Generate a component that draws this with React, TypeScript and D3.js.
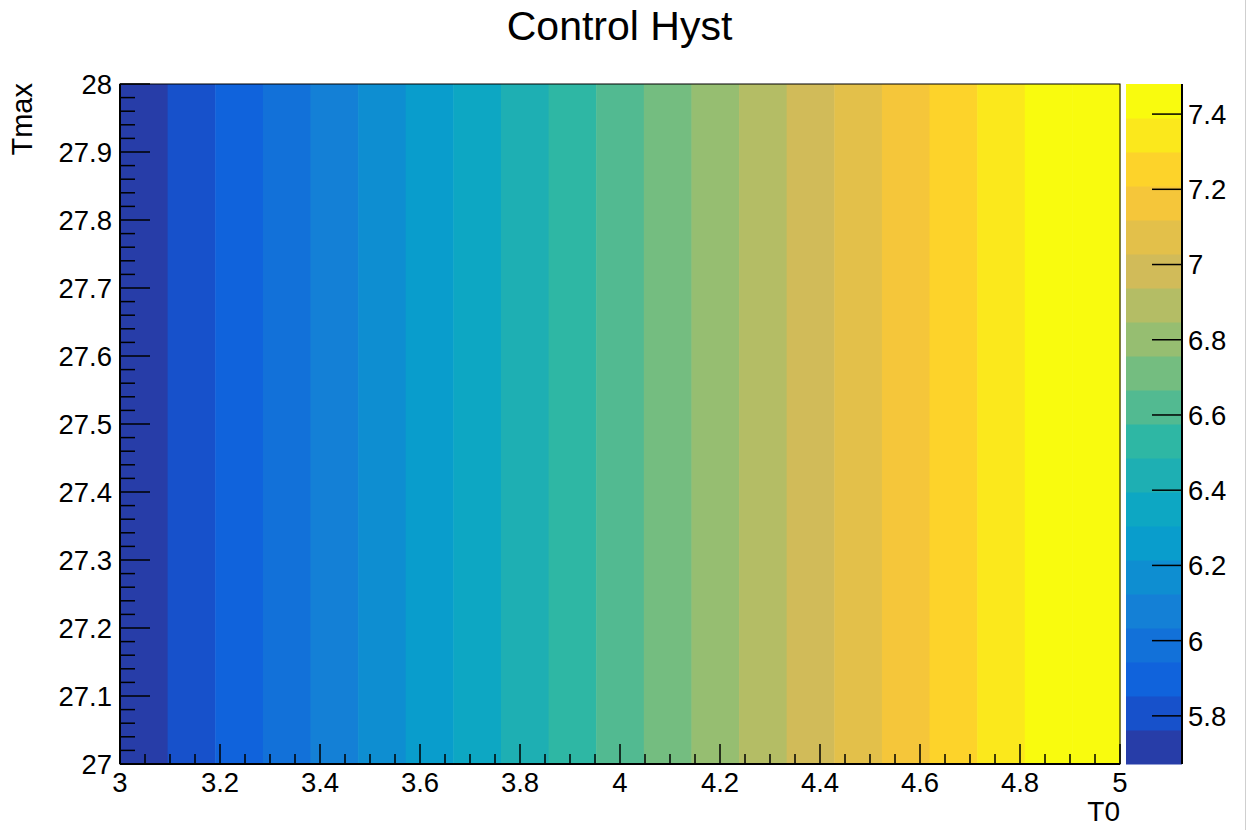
import React from "react";
import * as d3 from "d3";

// Histogram axes ranges
const T0_RANGE: [number, number] = [3, 5];
const TMAX_RANGE: [number, number] = [27, 28];

// Bin contents along T0 (one row spanning the full Tmax range)
const CELL_VALUES = [
  5.672, 5.7624, 5.8528, 5.9432, 6.0336, 6.124, 6.2144, 6.3048, 6.3952, 6.4856,
  6.576, 6.6664, 6.7568, 6.8472, 6.9376, 7.028, 7.1184, 7.2088, 7.2992, 7.3896,
  7.48,
];

const X_TICKS = [3, 3.2, 3.4, 3.6, 3.8, 4, 4.2, 4.4, 4.6, 4.8, 5];
const Y_TICKS = [27, 27.1, 27.2, 27.3, 27.4, 27.5, 27.6, 27.7, 27.8, 27.9, 28];
const Z_TICKS = [5.8, 6, 6.2, 6.4, 6.6, 6.8, 7, 7.2, 7.4];

const N_CONTOURS = 20;

// kBird gradient stops
const BIRD_STOPS = [0.0, 0.125, 0.25, 0.375, 0.5, 0.625, 0.75, 0.875, 1.0];
const BIRD_R = [0.2082, 0.0592, 0.078, 0.0232, 0.1802, 0.5301, 0.8186, 0.9956, 0.9764];
const BIRD_G = [0.1664, 0.3599, 0.5041, 0.6419, 0.7178, 0.7492, 0.7328, 0.7862, 0.9832];
const BIRD_B = [0.5293, 0.8684, 0.8385, 0.7914, 0.6425, 0.4662, 0.3499, 0.1968, 0.0539];

const W = 1253;
const H = 830;
const FRAME = { x0: 120, y0: 84, x1: 1120, y1: 764 };
const PAL = { x0: 1126, x1: 1182 };
const FONT = "'Liberation Sans', Arial, Helvetica, sans-serif";
const TICK_FONT = 27.5;

function birdColor(frac: number): string {
  const ch = (arr: number[]) =>
    d3.scaleLinear<number>().domain(BIRD_STOPS).range(arr).clamp(true)(frac);
  return d3.rgb(ch(BIRD_R) * 255, ch(BIRD_G) * 255, ch(BIRD_B) * 255).formatHex();
}

// Colour for a contour level, picked from a 255-entry gradient table
function levelColor(level: number): string {
  const nColors = 255;
  const idx = Math.floor(((level + 0.99) * nColors) / N_CONTOURS);
  return birdColor(Math.min(idx, nColors - 1) / (nColors - 1));
}

const fmt = (v: number) => d3.format("~g")(+v.toFixed(4));

export default function App() {
  const x = d3.scaleLinear().domain(T0_RANGE).range([FRAME.x0, FRAME.x1]);
  const y = d3.scaleLinear().domain(TMAX_RANGE).range([FRAME.y1, FRAME.y0]);
  const zMin = d3.min(CELL_VALUES)!;
  const zMax = d3.max(CELL_VALUES)!;
  const z = d3.scaleLinear().domain([zMin, zMax]).range([FRAME.y1, FRAME.y0]);

  const nx = CELL_VALUES.length;
  const binW = (T0_RANGE[1] - T0_RANGE[0]) / nx;
  const levelOf = (v: number) =>
    Math.min(
      N_CONTOURS - 1,
      Math.floor(((v - zMin) / (zMax - zMin)) * N_CONTOURS + 1e-6)
    );

  // minor ticks
  const xMinor = d3
    .range(0, (T0_RANGE[1] - T0_RANGE[0]) / 0.05 + 1)
    .map((i) => T0_RANGE[0] + i * 0.05);
  const yMinor = d3
    .range(0, (TMAX_RANGE[1] - TMAX_RANGE[0]) / 0.02 + 1)
    .map((i) => TMAX_RANGE[0] + i * 0.02);

  const zStep = (zMax - zMin) / N_CONTOURS;
  const levels = d3.range(N_CONTOURS);

  return (
    <svg
      width={W}
      height={H}
      style={{ position: "absolute", left: 0, top: 0, background: "#fff" }}
      fontFamily={FONT}
    >
      <rect x={0} y={0} width={W} height={H} fill="#fff" />

      {/* cells */}
      {CELL_VALUES.map((v, i) => {
        const xa = x(T0_RANGE[0] + i * binW);
        const xb = x(T0_RANGE[0] + (i + 1) * binW);
        return (
          <rect
            key={i}
            x={xa}
            y={y(TMAX_RANGE[1])}
            width={xb - xa + 0.5}
            height={y(TMAX_RANGE[0]) - y(TMAX_RANGE[1])}
            fill={levelColor(levelOf(v))}
          />
        );
      })}

      {/* frame */}
      <rect
        x={FRAME.x0}
        y={FRAME.y0}
        width={FRAME.x1 - FRAME.x0}
        height={FRAME.y1 - FRAME.y0}
        fill="none"
        stroke="#000"
        strokeWidth={1}
      />

      {/* X axis */}
      <line x1={FRAME.x0} x2={FRAME.x1} y1={FRAME.y1} y2={FRAME.y1} stroke="#000" strokeWidth={2} />
      {xMinor.map((t, i) => (
        <line
          key={"xm" + i}
          x1={x(t)}
          x2={x(t)}
          y1={FRAME.y1}
          y2={FRAME.y1 - (i % 4 === 0 ? 20 : 10)}
          stroke="#000"
          strokeWidth={1.5}
        />
      ))}
      {X_TICKS.map((t) => (
        <text
          key={"xl" + t}
          x={x(t)}
          y={792}
          textAnchor="middle"
          fontSize={TICK_FONT}
          fill="#000"
        >
          {fmt(t)}
        </text>
      ))}
      <text x={FRAME.x1} y={821} textAnchor="end" fontSize={28} fill="#000">
        T0
      </text>

      {/* Y axis */}
      <line x1={FRAME.x0} x2={FRAME.x0} y1={FRAME.y0} y2={FRAME.y1} stroke="#000" strokeWidth={2} />
      {yMinor.map((t, i) => (
        <line
          key={"ym" + i}
          x1={FRAME.x0}
          x2={FRAME.x0 + (i % 5 === 0 ? 30 : 15)}
          y1={y(t)}
          y2={y(t)}
          stroke="#000"
          strokeWidth={1.5}
        />
      ))}
      {Y_TICKS.map((t) => (
        <text
          key={"yl" + t}
          x={112}
          y={y(t)}
          dy="0.36em"
          textAnchor="end"
          fontSize={TICK_FONT}
          fill="#000"
        >
          {fmt(t)}
        </text>
      ))}
      <text
        transform={`translate(32, ${FRAME.y0 - 1}) rotate(-90)`}
        textAnchor="end"
        fontSize={29}
        fill="#000"
      >
        Tmax
      </text>

      {/* palette */}
      {levels.map((l) => (
        <rect
          key={"p" + l}
          x={PAL.x0}
          y={z(zMin + (l + 1) * zStep)}
          width={PAL.x1 - PAL.x0}
          height={z(zMin + l * zStep) - z(zMin + (l + 1) * zStep) + 0.5}
          fill={levelColor(l)}
        />
      ))}
      <line x1={PAL.x1} x2={PAL.x1} y1={FRAME.y0} y2={FRAME.y1} stroke="#000" strokeWidth={2} />
      {Z_TICKS.map((t) => (
        <g key={"z" + t}>
          <line x1={PAL.x1 - 30} x2={PAL.x1} y1={z(t)} y2={z(t)} stroke="#000" strokeWidth={1.5} />
          <text x={1188} y={z(t)} dy="0.36em" fontSize={TICK_FONT} fill="#000">
            {fmt(t)}
          </text>
        </g>
      ))}

      {/* title */}
      <text x={619.5} y={40} textAnchor="middle" fontSize={41} fill="#000">
        Control Hyst
      </text>

      {/* canvas edge */}
      <line x1={1245.5} x2={1245.5} y1={0} y2={H} stroke="#cfcfcf" strokeWidth={1} />
    </svg>
  );
}
